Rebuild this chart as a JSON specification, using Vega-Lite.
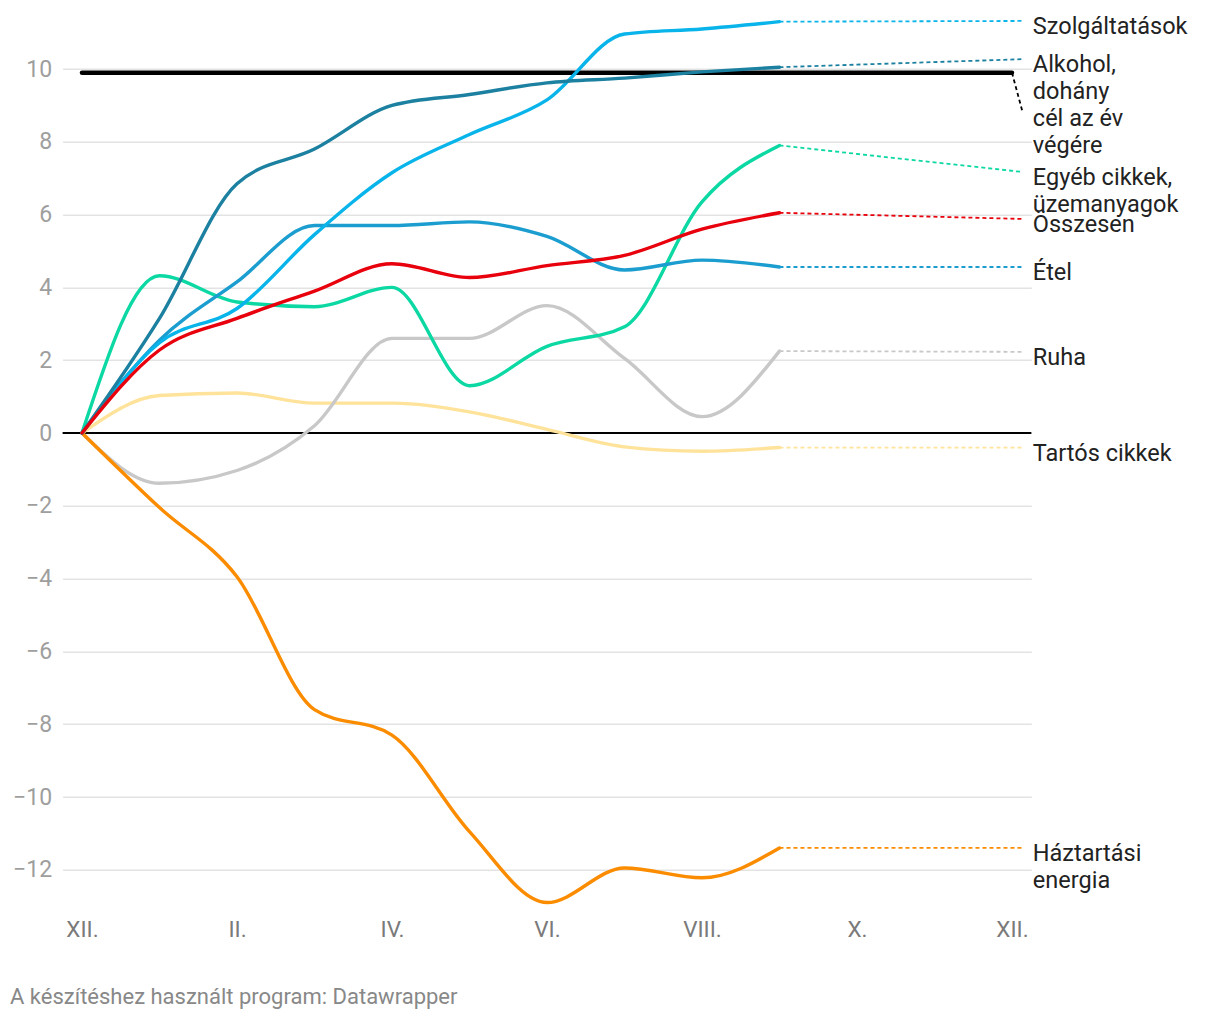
{
  "$schema": "https://vega.github.io/schema/vega-lite/v6.json",
  "width": 968.75,
  "height": 902.72,
  "autosize": {"type": "none"},
  "padding": {"left": 62.6, "top": 10.76, "right": 188.65, "bottom": 106.52},
  "background": "white",
  "config": {"font": "Roboto", "view": {"stroke": null}},
  "title": {
    "text": "A készítéshez használt program: Datawrapper",
    "orient": "bottom", "anchor": "start", "frame": "group",
    "dx": -52.6, "offset": 46, "fontSize": 22, "fontWeight": "normal",
    "color": "#888888", "font": "Roboto"
  },
  "datasets": {
    "series": [
      {"s": "Tartós cikkek", "m": 0, "v": 0}, {"s": "Tartós cikkek", "m": 1, "v": 1.03}, {"s": "Tartós cikkek", "m": 2, "v": 1.1}, {"s": "Tartós cikkek", "m": 3, "v": 0.82}, {"s": "Tartós cikkek", "m": 4, "v": 0.82}, {"s": "Tartós cikkek", "m": 5, "v": 0.58}, {"s": "Tartós cikkek", "m": 6, "v": 0.1}, {"s": "Tartós cikkek", "m": 7, "v": -0.38}, {"s": "Tartós cikkek", "m": 8, "v": -0.5}, {"s": "Tartós cikkek", "m": 9, "v": -0.4},
      {"s": "Ruha", "m": 0, "v": 0}, {"s": "Ruha", "m": 1, "v": -1.38}, {"s": "Ruha", "m": 2, "v": -1.03}, {"s": "Ruha", "m": 3, "v": 0.2}, {"s": "Ruha", "m": 4, "v": 2.6}, {"s": "Ruha", "m": 5, "v": 2.6}, {"s": "Ruha", "m": 6, "v": 3.5}, {"s": "Ruha", "m": 7, "v": 2.05}, {"s": "Ruha", "m": 8, "v": 0.45}, {"s": "Ruha", "m": 9, "v": 2.25},
      {"s": "Háztartási energia", "m": 0, "v": 0}, {"s": "Háztartási energia", "m": 1, "v": -2.05}, {"s": "Háztartási energia", "m": 2, "v": -3.95}, {"s": "Háztartási energia", "m": 3, "v": -7.6}, {"s": "Háztartási energia", "m": 4, "v": -8.3}, {"s": "Háztartási energia", "m": 5, "v": -10.95}, {"s": "Háztartási energia", "m": 6, "v": -12.9}, {"s": "Háztartási energia", "m": 7, "v": -11.95}, {"s": "Háztartási energia", "m": 8, "v": -12.22}, {"s": "Háztartási energia", "m": 9, "v": -11.4},
      {"s": "Egyéb cikkek, üzemanyagok", "m": 0, "v": 0}, {"s": "Egyéb cikkek, üzemanyagok", "m": 1, "v": 4.32}, {"s": "Egyéb cikkek, üzemanyagok", "m": 2, "v": 3.6}, {"s": "Egyéb cikkek, üzemanyagok", "m": 3, "v": 3.47}, {"s": "Egyéb cikkek, üzemanyagok", "m": 4, "v": 4.0}, {"s": "Egyéb cikkek, üzemanyagok", "m": 5, "v": 1.3}, {"s": "Egyéb cikkek, üzemanyagok", "m": 6, "v": 2.38}, {"s": "Egyéb cikkek, üzemanyagok", "m": 7, "v": 2.92}, {"s": "Egyéb cikkek, üzemanyagok", "m": 8, "v": 6.35}, {"s": "Egyéb cikkek, üzemanyagok", "m": 9, "v": 7.9},
      {"s": "Étel", "m": 0, "v": 0}, {"s": "Étel", "m": 1, "v": 2.55}, {"s": "Étel", "m": 2, "v": 4.15}, {"s": "Étel", "m": 3, "v": 5.7}, {"s": "Étel", "m": 4, "v": 5.7}, {"s": "Étel", "m": 5, "v": 5.8}, {"s": "Étel", "m": 6, "v": 5.4}, {"s": "Étel", "m": 7, "v": 4.48}, {"s": "Étel", "m": 8, "v": 4.75}, {"s": "Étel", "m": 9, "v": 4.56},
      {"s": "Szolgáltatások", "m": 0, "v": 0}, {"s": "Szolgáltatások", "m": 1, "v": 2.48}, {"s": "Szolgáltatások", "m": 2, "v": 3.42}, {"s": "Szolgáltatások", "m": 3, "v": 5.45}, {"s": "Szolgáltatások", "m": 4, "v": 7.15}, {"s": "Szolgáltatások", "m": 5, "v": 8.2}, {"s": "Szolgáltatások", "m": 6, "v": 9.15}, {"s": "Szolgáltatások", "m": 7, "v": 10.96}, {"s": "Szolgáltatások", "m": 8, "v": 11.1}, {"s": "Szolgáltatások", "m": 9, "v": 11.3},
      {"s": "Alkohol, dohány", "m": 0, "v": 0}, {"s": "Alkohol, dohány", "m": 1, "v": 3.15}, {"s": "Alkohol, dohány", "m": 2, "v": 6.85}, {"s": "Alkohol, dohány", "m": 3, "v": 7.8}, {"s": "Alkohol, dohány", "m": 4, "v": 9.0}, {"s": "Alkohol, dohány", "m": 5, "v": 9.3}, {"s": "Alkohol, dohány", "m": 6, "v": 9.62}, {"s": "Alkohol, dohány", "m": 7, "v": 9.75}, {"s": "Alkohol, dohány", "m": 8, "v": 9.92}, {"s": "Alkohol, dohány", "m": 9, "v": 10.05},
      {"s": "Összesen", "m": 0, "v": 0}, {"s": "Összesen", "m": 1, "v": 2.28}, {"s": "Összesen", "m": 2, "v": 3.15}, {"s": "Összesen", "m": 3, "v": 3.9}, {"s": "Összesen", "m": 4, "v": 4.65}, {"s": "Összesen", "m": 5, "v": 4.27}, {"s": "Összesen", "m": 6, "v": 4.6}, {"s": "Összesen", "m": 7, "v": 4.88}, {"s": "Összesen", "m": 8, "v": 5.6}, {"s": "Összesen", "m": 9, "v": 6.05}
    ],
    "target": [
      {"s": "cél", "m": 0, "v": 9.9}, {"s": "cél", "m": 12, "v": 9.9}
    ],
    "conn": [
      {"s": "Szolgáltatások", "m": 9, "v": 11.3}, {"s": "Szolgáltatások", "m": 12.14, "v": 11.32},
      {"s": "Alkohol, dohány", "m": 9, "v": 10.05}, {"s": "Alkohol, dohány", "m": 12.14, "v": 10.27},
      {"s": "cél", "m": 12, "v": 9.9}, {"s": "cél", "m": 12.14, "v": 8.79},
      {"s": "Egyéb cikkek, üzemanyagok", "m": 9, "v": 7.9}, {"s": "Egyéb cikkek, üzemanyagok", "m": 12.14, "v": 7.17},
      {"s": "Összesen", "m": 9, "v": 6.05}, {"s": "Összesen", "m": 12.14, "v": 5.88},
      {"s": "Étel", "m": 9, "v": 4.56}, {"s": "Étel", "m": 12.14, "v": 4.56},
      {"s": "Ruha", "m": 9, "v": 2.25}, {"s": "Ruha", "m": 12.14, "v": 2.23},
      {"s": "Tartós cikkek", "m": 9, "v": -0.4}, {"s": "Tartós cikkek", "m": 12.14, "v": -0.4},
      {"s": "Háztartási energia", "m": 9, "v": -11.4}, {"s": "Háztartási energia", "m": 12.14, "v": -11.4}
    ],
    "labels": [
      {"m": 12.14, "v": 11.32, "label": ["Szolgáltatások"]},
      {"m": 12.14, "v": 10.27, "label": ["Alkohol,", "dohány"]},
      {"m": 12.14, "v": 8.79, "label": ["cél az év", "végére"]},
      {"m": 12.14, "v": 7.17, "label": ["Egyéb cikkek,", "üzemanyagok"]},
      {"m": 12.14, "v": 5.88, "label": ["Összesen"]},
      {"m": 12.14, "v": 4.56, "label": ["Étel"]},
      {"m": 12.14, "v": 2.23, "label": ["Ruha"]},
      {"m": 12.14, "v": -0.4, "label": ["Tartós cikkek"]},
      {"m": 12.14, "v": -11.4, "label": ["Háztartási", "energia"]}
    ]
  },
  "layer": [
    {
      "data": {"values": [{"v": 0}]},
      "mark": {"type": "rule", "color": "#000000", "strokeWidth": 2},
      "encoding": {
        "y": {
          "field": "v", "type": "quantitative",
          "scale": {"domain": [-13.2, 11.6], "nice": false, "zero": false},
          "axis": {
            "values": [-12, -10, -8, -6, -4, -2, 0, 2, 4, 6, 8, 10],
            "grid": true, "gridColor": "#e3e3e3", "gridWidth": 1.5,
            "domain": false, "ticks": false,
            "labelFontSize": 23, "labelColor": "#9e9e9e", "labelPadding": 11,
            "labelFont": "Roboto", "title": null
          }
        }
      }
    },
    {
      "data": {"name": "target"},
      "mark": {"type": "line", "color": "#000000", "strokeWidth": 4.5, "strokeCap": "round"},
      "encoding": {
        "x": {"field": "m", "type": "quantitative", "scale": {"domain": [-0.25, 12.25], "nice": false, "zero": false},
          "axis": {
            "values": [0, 2, 4, 6, 8, 10, 12],
            "labelExpr": "['XII.','II.','IV.','VI.','VIII.','X.','XII.'][round(datum.value/2)]",
            "grid": false, "domain": false, "ticks": false,
            "labelFontSize": 22.5, "labelColor": "#7a7a7a", "labelPadding": 5,
            "labelFont": "Roboto", "title": null
          }
        },
        "y": {"field": "v", "type": "quantitative"}
      }
    },
    {
      "data": {"name": "conn"},
      "mark": {"type": "line", "strokeWidth": 1.8, "strokeDash": [4, 3]},
      "encoding": {
        "x": {"field": "m", "type": "quantitative"},
        "y": {"field": "v", "type": "quantitative"},
        "color": {"field": "s", "type": "nominal", "legend": null,
          "scale": {
            "domain": ["Szolgáltatások", "Alkohol, dohány", "Étel", "Egyéb cikkek, üzemanyagok", "Összesen", "Ruha", "Tartós cikkek", "Háztartási energia", "cél"],
            "range": ["#08b4ea", "#1c80a1", "#1b9ecf", "#0bd8a3", "#e8000c", "#c8c8c8", "#ffe39a", "#fb8c00", "#000000"]
          }
        }
      }
    },
    {
      "data": {"name": "series"},
      "mark": {"type": "line", "strokeWidth": 3.4, "interpolate": "monotone", "strokeCap": "round"},
      "encoding": {
        "x": {"field": "m", "type": "quantitative"},
        "y": {"field": "v", "type": "quantitative"},
        "color": {"field": "s", "type": "nominal", "legend": null}
      }
    },
    {
      "data": {"name": "labels"},
      "mark": {"type": "text", "align": "left", "baseline": "top", "dx": 10, "dy": -6, "fontSize": 23.5, "lineHeight": 27, "color": "#222222", "font": "Roboto"},
      "encoding": {
        "x": {"field": "m", "type": "quantitative"},
        "y": {"field": "v", "type": "quantitative"},
        "text": {"field": "label"}
      }
    }
  ]
}
